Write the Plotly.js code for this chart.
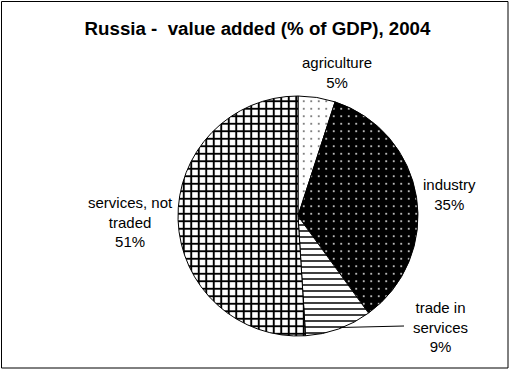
<!DOCTYPE html>
<html>
<head>
<meta charset="utf-8">
<script src="https://cdn.plot.ly/plotly-3.0.1.min.js"></script>
<style>html,body{margin:0;padding:0;background:#fff}#chart{width:510px;height:378px}</style>
</head>
<body>
<div id="chart"></div>
<script>
// Data
const categories = ["agriculture", "industry", "trade in services", "services, not traded"];
const labelText = ["agriculture", "industry", "trade in<br>services", "services, not<br>traded"];
const values = [5, 35, 9, 51];
const titleText = "Russia -\u00a0 value added (% of GDP), 2004";

// Styles
const W = 510, H = 378;
const px = x => x / W;
const py = y => 1 - y / H;
const labelPos = [
  {x: 337, y: 72},
  {x: 449, y: 194},
  {x: 440, y: 327},
  {x: 130, y: 222}
];

const trace = {
  type: 'pie',
  labels: categories,
  values: values,
  sort: false,
  direction: 'clockwise',
  rotation: 0,
  textinfo: 'none',
  hoverinfo: 'label+percent',
  showlegend: false,
  domain: {x: [px(178), px(418)], y: [py(336), py(96)]},
  marker: {
    colors: ['#ffffff', '#000000', '#ffffff', '#ffffff'],
    line: {color: '#000000', width: 1},
    pattern: {
      shape: ['.', '.', '-', '+'],
      fgcolor: ['#555555', '#ffffff', '#000000', '#000000'],
      bgcolor: ['#ffffff', '#000000', '#ffffff', '#ffffff'],
      size: [7.5, 7.5, 6, 7.5],
      solidity: [0.05, 0.045, 0.25, 0.45],
      fillmode: 'replace'
    }
  }
};

const total = values.reduce((a, b) => a + b, 0);
const annotations = categories.map((c, i) => ({
  xref: 'paper', yref: 'paper',
  x: px(labelPos[i].x), y: py(labelPos[i].y),
  xanchor: 'center', yanchor: 'middle',
  text: labelText[i] + '<br>' + Math.round(values[i] / total * 100) + '%',
  showarrow: false,
  align: 'center',
  font: {family: 'Liberation Sans, Arial, sans-serif', size: 15, color: '#000'}
}));

const layout = {
  width: W, height: H,
  margin: {l: 0, r: 0, t: 0, b: 0},
  paper_bgcolor: '#ffffff',
  title: {
    text: '<b>' + titleText + '</b>',
    x: px(257.5), xanchor: 'center', xref: 'paper',
    y: py(28), yanchor: 'middle', yref: 'container',
    font: {family: 'Liberation Sans, Arial, sans-serif', size: 18.7, color: '#000'}
  },
  annotations: annotations,
  shapes: [
    {type: 'rect', xref: 'paper', yref: 'paper', x0: px(1.5), x1: px(508), y0: py(368), y1: py(1.5),
     line: {color: '#000', width: 1}, fillcolor: 'rgba(0,0,0,0)'},
    {type: 'line', xref: 'paper', yref: 'paper', x0: px(340), y0: py(327.5), x1: px(404), y1: py(326),
     line: {color: '#000', width: 1}}
  ]
};

Plotly.newPlot('chart', [trace], layout, {displayModeBar: false, staticPlot: true});
</script>
</body>
</html>
